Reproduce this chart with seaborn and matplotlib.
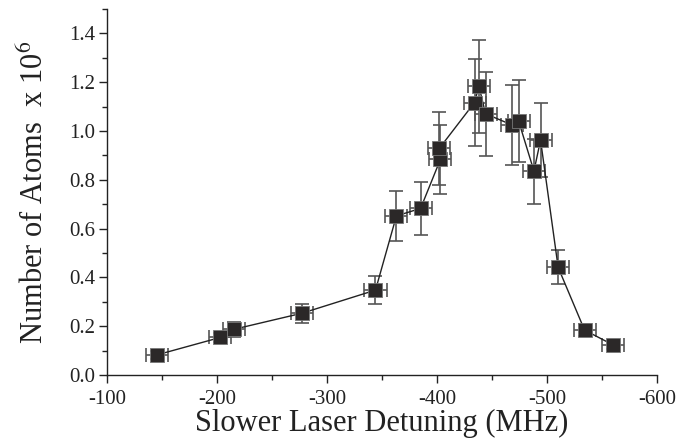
import numpy as np
import pandas as pd
import matplotlib
matplotlib.use("Agg")
import matplotlib.pyplot as plt
from matplotlib.ticker import MultipleLocator
import seaborn as sns

# detuning (MHz) and atom number (x 10^6), with error bars
detuning = [-145, -203, -215, -277, -344, -363, -385, -403, -402,
            -434, -438, -444, -468, -474, -488, -494, -510, -534, -560]
atoms = [0.082, 0.154, 0.187, 0.253, 0.348, 0.652, 0.683, 0.884, 0.929,
         1.117, 1.184, 1.071, 1.025, 1.042, 0.836, 0.963, 0.441, 0.184, 0.123]
x_err = [10] * 19
y_err = [0.015, 0.02, 0.03, 0.04, 0.056, 0.104, 0.11, 0.141, 0.15,
         0.18, 0.19, 0.172, 0.164, 0.167, 0.133, 0.15, 0.07, 0.025, 0.015]

df = pd.DataFrame({"Detuning": detuning, "Atoms": atoms,
                   "xerr": x_err, "yerr": y_err})

sns.set_style("ticks")
plt.rcParams['font.family'] = ['Liberation Serif', 'DejaVu Serif']
plt.rcParams['mathtext.fontset'] = 'stix'

fig = plt.figure(figsize=(6.86, 4.43), dpi=100)
ax = fig.add_axes([0.156, 0.1535, 0.802, 0.826])

ax.errorbar(df["Detuning"], df["Atoms"], xerr=df["xerr"], yerr=df["yerr"],
            fmt="none", ecolor="#555555", elinewidth=1.2, capsize=5,
            capthick=1.2, zorder=2)
sns.lineplot(data=df, x="Detuning", y="Atoms", sort=False, color="#222222",
             linewidth=1.0, ax=ax, zorder=3)
sns.scatterplot(data=df, x="Detuning", y="Atoms", marker="s", s=95,
                color="#2b2828", edgecolor="#777777", linewidth=0.6,
                ax=ax, zorder=4)

ax.set_xlim(-100, -600)
ax.set_ylim(0, 1.5)
ax.xaxis.set_major_locator(MultipleLocator(100))
ax.xaxis.set_minor_locator(MultipleLocator(50))
ax.yaxis.set_major_locator(MultipleLocator(0.2))
ax.yaxis.set_minor_locator(MultipleLocator(0.1))
ax.yaxis.set_major_formatter(matplotlib.ticker.FormatStrFormatter("%.1f"))
ax.xaxis.set_major_formatter(matplotlib.ticker.FormatStrFormatter("%d"))

ax.tick_params(which="major", direction="out", length=6, width=1,
               labelsize=15, colors="#222222", pad=2.5)
ax.tick_params(axis="x", which="major", pad=5)
ax.tick_params(which="minor", direction="out", length=3.5, width=1,
               colors="#222222")

for side in ["top", "right"]:
    ax.spines[side].set_visible(False)
for side in ["left", "bottom"]:
    ax.spines[side].set_linewidth(1.0)
    ax.spines[side].set_color("#222222")

ax.set_xlabel("Slower Laser Detuning (MHz)", fontsize=22, color="#222222",
              labelpad=0)
ax.set_ylabel("Number of Atoms  x 10$^6$", fontsize=22, color="#222222",
              labelpad=14)

fig.savefig("out.png", dpi=100)
